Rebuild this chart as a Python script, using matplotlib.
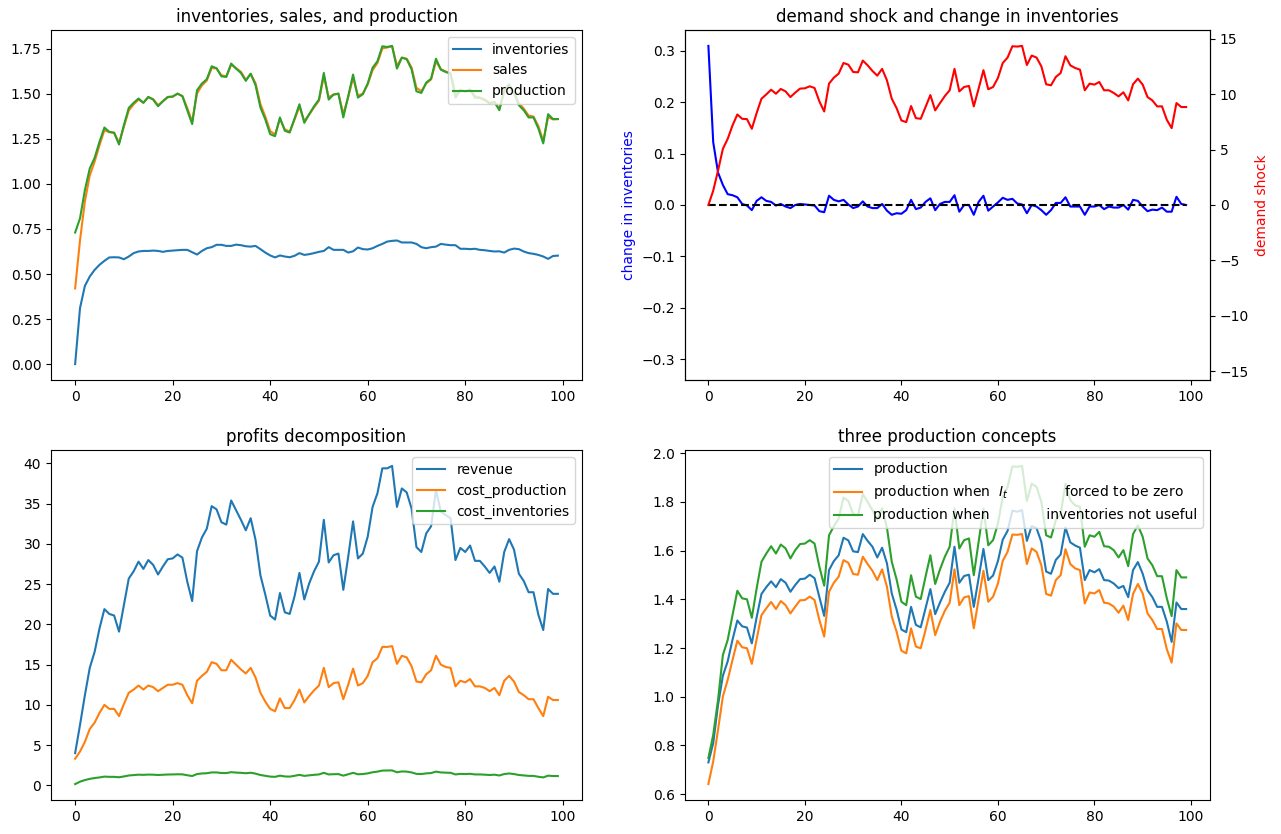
import matplotlib
matplotlib.use('Agg')
import matplotlib.pyplot as plt
import numpy as np

T = 100
t = np.arange(T)

# top left: inventories, sales, production
inventories = [0.0, 0.311, 0.434, 0.486, 0.523, 0.551, 0.573, 0.592, 0.593, 0.592,
               0.582, 0.597, 0.616, 0.625, 0.628, 0.628, 0.630, 0.628, 0.623, 0.628,
               0.630, 0.632, 0.634, 0.634, 0.621, 0.608, 0.628, 0.643, 0.649, 0.662,
               0.662, 0.656, 0.656, 0.663, 0.660, 0.654, 0.652, 0.656, 0.638, 0.619,
               0.603, 0.592, 0.603, 0.597, 0.593, 0.601, 0.616, 0.606, 0.610, 0.616,
               0.623, 0.628, 0.649, 0.634, 0.634, 0.634, 0.619, 0.626, 0.647, 0.638,
               0.636, 0.643, 0.656, 0.667, 0.680, 0.684, 0.686, 0.675, 0.675, 0.675,
               0.667, 0.649, 0.643, 0.649, 0.652, 0.667, 0.663, 0.660, 0.660, 0.640,
               0.640, 0.638, 0.640, 0.634, 0.632, 0.628, 0.625, 0.626, 0.619, 0.634,
               0.641, 0.638, 0.625, 0.616, 0.612, 0.606, 0.597, 0.584, 0.600, 0.602]

sales = [0.42, 0.687, 0.903, 1.047, 1.124, 1.215, 1.298, 1.287, 1.284, 1.228,
         1.318, 1.407, 1.442, 1.468, 1.451, 1.481, 1.471, 1.437, 1.459, 1.481,
         1.484, 1.501, 1.488, 1.421, 1.346, 1.502, 1.547, 1.574, 1.643, 1.641,
         1.603, 1.597, 1.661, 1.643, 1.622, 1.578, 1.610, 1.559, 1.443, 1.374,
         1.293, 1.275, 1.359, 1.303, 1.290, 1.357, 1.429, 1.349, 1.385, 1.425,
         1.462, 1.597, 1.481, 1.496, 1.501, 1.388, 1.481, 1.589, 1.490, 1.501,
         1.552, 1.631, 1.671, 1.752, 1.757, 1.765, 1.656, 1.701, 1.695, 1.646,
         1.533, 1.515, 1.558, 1.580, 1.680, 1.637, 1.624, 1.615, 1.498, 1.523,
         1.514, 1.524, 1.487, 1.480, 1.470, 1.451, 1.455, 1.418, 1.510, 1.545,
         1.508, 1.449, 1.418, 1.379, 1.374, 1.321, 1.238, 1.371, 1.358, 1.360]

production = [0.730, 0.809, 0.966, 1.086, 1.145, 1.234, 1.313, 1.289, 1.284, 1.219,
              1.326, 1.422, 1.450, 1.474, 1.450, 1.483, 1.468, 1.431, 1.459, 1.483,
              1.485, 1.501, 1.487, 1.409, 1.332, 1.520, 1.557, 1.581, 1.653, 1.642,
              1.597, 1.594, 1.668, 1.640, 1.616, 1.572, 1.612, 1.548, 1.424, 1.358,
              1.276, 1.265, 1.369, 1.295, 1.285, 1.363, 1.442, 1.339, 1.387, 1.431,
              1.468, 1.616, 1.468, 1.496, 1.501, 1.369, 1.487, 1.607, 1.479, 1.498,
              1.557, 1.645, 1.681, 1.764, 1.760, 1.766, 1.640, 1.701, 1.692, 1.636,
              1.514, 1.505, 1.562, 1.584, 1.695, 1.634, 1.621, 1.612, 1.479, 1.520,
              1.511, 1.524, 1.479, 1.477, 1.465, 1.446, 1.455, 1.409, 1.520, 1.553,
              1.505, 1.437, 1.409, 1.369, 1.369, 1.308, 1.225, 1.387, 1.360, 1.360]

# top right: demand shock and change in inventories
demand_shock = [0.0, 1.29, 3.10, 5.06, 5.96, 7.17, 8.16, 7.77, 7.74, 6.87,
                8.29, 9.58, 9.97, 10.39, 10.03, 10.46, 10.24, 9.73, 10.13, 10.49,
                10.52, 10.70, 10.55, 9.34, 8.43, 10.94, 11.48, 11.84, 12.80, 12.65,
                11.99, 11.96, 13.02, 12.59, 12.08, 11.66, 12.27, 11.24, 9.58, 8.73,
                7.62, 7.47, 8.92, 7.83, 7.77, 8.83, 9.91, 8.53, 9.19, 9.82,
                10.34, 12.27, 10.24, 10.64, 10.73, 8.89, 10.49, 12.15, 10.43, 10.64,
                11.45, 12.80, 13.29, 14.31, 14.28, 14.34, 12.62, 13.47, 13.29, 12.50,
                10.88, 10.79, 11.54, 11.90, 13.41, 12.59, 12.35, 12.20, 10.34, 10.94,
                10.85, 11.09, 10.34, 10.34, 10.10, 9.79, 10.16, 9.43, 10.88, 11.39,
                10.85, 9.73, 9.43, 8.89, 8.89, 7.68, 6.93, 9.19, 8.83, 8.83]

change_inventories = [0.309, 0.122, 0.063, 0.039, 0.021, 0.019, 0.015, 0.002, -0.001, -0.010,
                      0.008, 0.015, 0.008, 0.006, -0.001, 0.002, -0.003, -0.006, 0.000, 0.002,
                      0.001, 0.000, -0.001, -0.012, -0.014, 0.018, 0.010, 0.007, 0.010, 0.001,
                      -0.006, -0.003, 0.007, -0.003, -0.006, -0.006, 0.002, -0.011, -0.019, -0.016,
                      -0.017, -0.010, 0.010, -0.008, -0.005, 0.006, 0.013, -0.010, 0.002, 0.006,
                      0.006, 0.019, -0.013, 0.000, 0.000, -0.019, 0.006, 0.018, -0.011, -0.003,
                      0.005, 0.014, 0.010, 0.012, 0.003, 0.001, -0.016, 0.000, -0.003, -0.010,
                      -0.019, -0.010, 0.004, 0.004, 0.015, -0.003, -0.003, -0.003, -0.019, -0.003,
                      -0.003, 0.000, -0.008, -0.003, -0.005, -0.005, 0.000, -0.009, 0.010, 0.008,
                      -0.003, -0.012, -0.009, -0.010, -0.005, -0.013, -0.013, 0.016, 0.002, 0.000]

# bottom left: profits decomposition
revenue = [4.0, 7.5, 11.2, 14.6, 16.6, 19.5, 21.9, 21.3, 21.1, 19.1,
           22.4, 25.7, 26.6, 27.8, 26.9, 28.0, 27.4, 26.2, 27.2, 28.1,
           28.2, 28.7, 28.3, 25.3, 22.9, 29.1, 30.8, 31.9, 34.7, 34.3,
           32.7, 32.4, 35.4, 34.2, 33.0, 31.7, 33.2, 30.5, 26.1, 23.7,
           21.1, 20.6, 23.9, 21.5, 21.3, 23.5, 26.4, 23.1, 25.1, 26.6,
           27.8, 33.0, 27.7, 28.6, 28.8, 24.3, 28.4, 32.8, 28.2, 28.8,
           30.9, 34.6, 36.3, 39.4, 39.4, 39.7, 34.6, 36.9, 36.4, 34.4,
           29.6, 29.0, 31.3, 32.2, 36.7, 34.0, 33.6, 33.2, 28.0, 29.5,
           29.0, 29.8, 27.9, 27.9, 27.2, 26.4, 27.2, 25.3, 29.0, 30.6,
           29.3, 26.3, 25.4, 24.0, 24.0, 21.2, 19.3, 24.4, 23.8, 23.8]

cost_production = [3.3, 4.2, 5.4, 7.0, 7.8, 9.0, 10.0, 9.5, 9.5, 8.6,
                   10.1, 11.5, 11.9, 12.4, 11.9, 12.4, 12.2, 11.7, 12.1, 12.5,
                   12.5, 12.7, 12.5, 11.2, 10.2, 13.0, 13.6, 14.1, 15.3, 15.1,
                   14.3, 14.3, 15.6, 15.0, 14.4, 13.9, 14.6, 13.4, 11.5, 10.4,
                   9.5, 9.2, 10.8, 9.6, 9.6, 10.6, 11.9, 10.3, 11.1, 11.8,
                   12.4, 14.6, 12.2, 12.7, 12.8, 10.7, 12.5, 14.5, 12.4, 12.7,
                   13.6, 15.3, 15.8, 17.2, 17.2, 17.3, 15.1, 16.1, 15.9, 14.8,
                   12.9, 12.8, 13.8, 14.3, 16.1, 15.0, 14.7, 14.6, 12.3, 13.0,
                   12.8, 13.2, 12.3, 12.3, 12.1, 11.7, 12.1, 11.2, 13.0, 13.6,
                   12.9, 11.6, 11.2, 10.7, 10.7, 9.6, 8.6, 11.0, 10.6, 10.6]

cost_inventories = [0.15, 0.45, 0.65, 0.80, 0.90, 0.98, 1.08, 1.05, 1.05, 1.00,
                    1.10, 1.22, 1.27, 1.32, 1.30, 1.33, 1.32, 1.28, 1.31, 1.34,
                    1.35, 1.37, 1.36, 1.25, 1.15, 1.40, 1.47, 1.50, 1.60, 1.60,
                    1.53, 1.52, 1.63, 1.58, 1.55, 1.50, 1.56, 1.45, 1.28, 1.18,
                    1.08, 1.05, 1.20, 1.10, 1.08, 1.18, 1.30, 1.17, 1.24, 1.30,
                    1.35, 1.55, 1.35, 1.38, 1.39, 1.20, 1.37, 1.55, 1.37, 1.40,
                    1.48, 1.62, 1.70, 1.83, 1.84, 1.85, 1.62, 1.72, 1.70, 1.60,
                    1.42, 1.40, 1.48, 1.52, 1.70, 1.60, 1.57, 1.55, 1.35, 1.42,
                    1.40, 1.43, 1.35, 1.35, 1.32, 1.28, 1.32, 1.22, 1.40, 1.47,
                    1.40, 1.28, 1.23, 1.17, 1.17, 1.06, 0.98, 1.20, 1.15, 1.15]

# bottom right: three production concepts
production_no_inv = [0.641, 0.734, 0.864, 1.001, 1.069, 1.151, 1.230, 1.203, 1.199, 1.135,
                     1.236, 1.335, 1.363, 1.389, 1.360, 1.393, 1.376, 1.342, 1.370, 1.396,
                     1.397, 1.411, 1.397, 1.315, 1.247, 1.431, 1.468, 1.493, 1.561, 1.550,
                     1.504, 1.501, 1.575, 1.545, 1.517, 1.479, 1.523, 1.452, 1.329, 1.267,
                     1.189, 1.178, 1.281, 1.206, 1.199, 1.274, 1.356, 1.253, 1.308, 1.353,
                     1.386, 1.523, 1.376, 1.408, 1.413, 1.281, 1.400, 1.517, 1.390, 1.411,
                     1.465, 1.558, 1.595, 1.666, 1.665, 1.668, 1.545, 1.609, 1.595, 1.540,
                     1.422, 1.415, 1.479, 1.499, 1.606, 1.545, 1.527, 1.520, 1.383, 1.428,
                     1.424, 1.438, 1.386, 1.383, 1.370, 1.345, 1.374, 1.315, 1.422, 1.463,
                     1.424, 1.342, 1.315, 1.278, 1.278, 1.195, 1.140, 1.301, 1.274, 1.274]

production_no_use = [0.748, 0.843, 0.987, 1.171, 1.233, 1.335, 1.435, 1.404, 1.400, 1.324,
                     1.445, 1.554, 1.588, 1.618, 1.588, 1.625, 1.609, 1.568, 1.602, 1.627,
                     1.629, 1.643, 1.629, 1.534, 1.456, 1.663, 1.700, 1.732, 1.818, 1.804,
                     1.750, 1.745, 1.832, 1.800, 1.766, 1.728, 1.773, 1.695, 1.554, 1.482,
                     1.390, 1.376, 1.499, 1.411, 1.401, 1.493, 1.581, 1.463, 1.523, 1.575,
                     1.616, 1.773, 1.609, 1.643, 1.650, 1.499, 1.636, 1.773, 1.622, 1.643,
                     1.711, 1.821, 1.862, 1.946, 1.944, 1.948, 1.804, 1.875, 1.862, 1.800,
                     1.663, 1.654, 1.725, 1.750, 1.875, 1.807, 1.786, 1.780, 1.616, 1.663,
                     1.657, 1.677, 1.618, 1.616, 1.602, 1.572, 1.602, 1.536, 1.668, 1.704,
                     1.657, 1.568, 1.540, 1.495, 1.495, 1.404, 1.331, 1.520, 1.490, 1.490]

W, H = 1281, 834
fig = plt.figure(figsize=(W / 100, H / 100), dpi=100)

def box(x0, x1, y0, y1):
    # pixel box -> figure fraction
    return [x0 / W, 1 - y1 / H, (x1 - x0) / W, (y1 - y0) / H]

ax1 = fig.add_axes(box(51, 582, 30, 380))
ax2 = fig.add_axes(box(684.5, 1210, 30, 380))
ax3 = fig.add_axes(box(51, 582, 450, 800))
ax4 = fig.add_axes(box(684.5, 1210, 450, 800))

ax1.plot(t, inventories, label='inventories')
ax1.plot(t, sales, label='sales')
ax1.plot(t, production, label='production')
ax1.set_title('inventories, sales, and production')
ax1.legend(loc='upper right')

ax2.plot(t, change_inventories, 'b')
ax2.plot(t, np.zeros(T), 'k--')
ax2.set_ylabel('change in inventories', color='b')
lim = 1.1 * np.max(np.abs(change_inventories))
ax2.set_ylim(-lim, lim)
ax2.set_title('demand shock and change in inventories')
ax2r = ax2.twinx()
ax2r.plot(t, demand_shock, 'r')
ax2r.set_ylabel('demand shock', color='r')
lim = 1.1 * np.max(np.abs(demand_shock))
ax2r.set_ylim(-lim, lim)

ax3.plot(t, revenue, label='revenue')
ax3.plot(t, cost_production, label='cost_production')
ax3.plot(t, cost_inventories, label='cost_inventories')
ax3.set_title('profits decomposition')
ax3.legend(loc='upper right')

ax4.plot(t, production, label='production')
ax4.plot(t, production_no_inv,
         label='production when  $I_t$' + ' ' * 13 + 'forced to be zero')
ax4.plot(t, production_no_use,
         label='production when' + ' ' * 13 + 'inventories not useful')
ax4.set_title('three production concepts')
ax4.legend(loc='upper right')

plt.savefig('out.png', dpi=100)
